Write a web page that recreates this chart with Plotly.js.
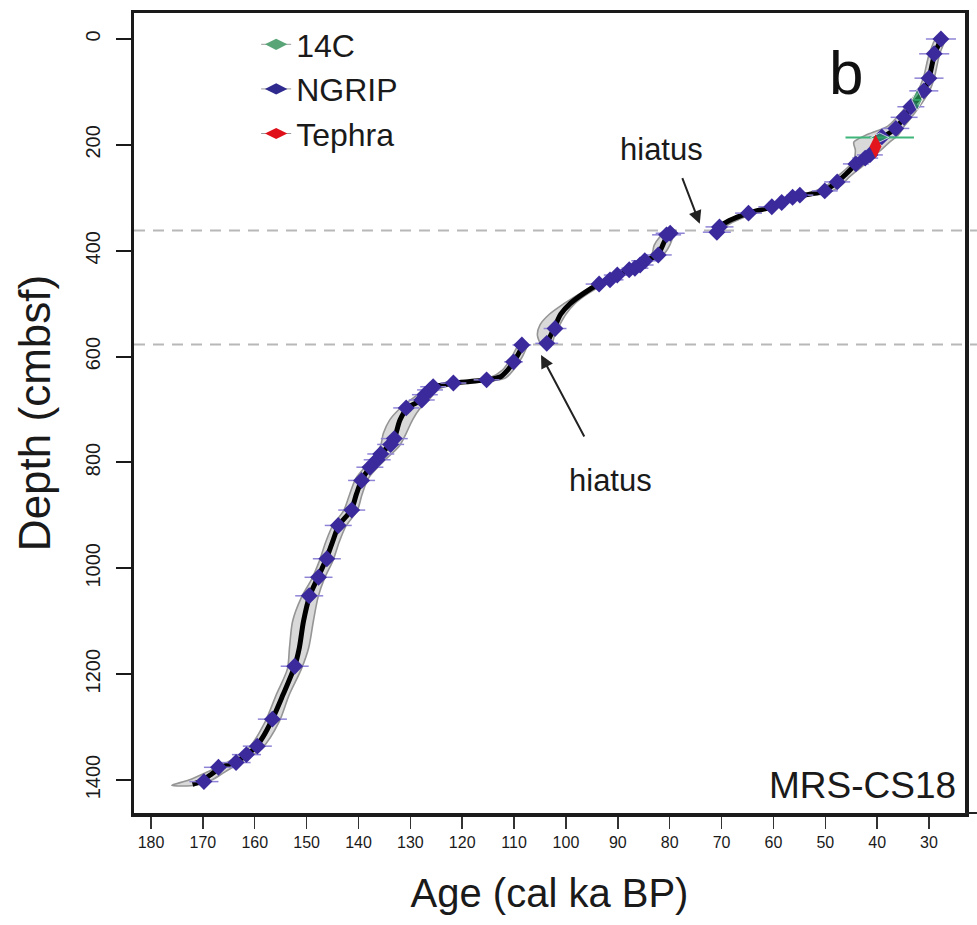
<!DOCTYPE html>
<html>
<head>
<meta charset="utf-8">
<script src="https://cdn.plot.ly/plotly-3.0.1.min.js"></script>
<style>html,body{margin:0;padding:0;background:#fff;}#chart{width:977px;height:925px;}</style>
</head>
<body>
<div id="chart"></div>
<script>
// ---------- NGRIP tie points (age ka, depth cm, age error ka) ----------
var ngripAge = [27.7,29.0,30.0,31.0,33.5,34.8,36.4,39.1,41.4,42.3,44.1,47.7,50.1,54.9,56.3,58.4,60.3,64.8,70.4,70.9,
                79.9,80.6,82.2,84.8,85.7,86.7,87.8,90.1,91.5,93.6,102.1,103.7,
                108.5,110.1,115.3,121.7,125.6,126.2,127.2,127.8,130.8,133.1,133.8,135.7,136.4,137.8,139.4,141.3,143.9,146.1,147.7,149.5,152.3,156.6,159.5,161.6,163.6,167.0,169.8];
var ngripDepth = [0,28,74,98,128,148,169,185,219,225,236,270,287,295,299,309,317,329,355,365,
                  367,370,408,419,427,433,436,446,455,463,547,575,
                  578,610,644,650,657,663,672,682,697,755,766,784,795,809,834,890,919,982,1017,1052,1185,1285,1336,1352,1367,1376,1403];
var ngripErr = [2.9,2.9,2.8,2.8,2.6,2.6,2.6,2.5,2.5,2.5,2.5,2.5,2.5,2.6,2.6,2.6,2.6,2.6,2.7,2.7,
                2.8,2.8,2.6,2.6,2.6,2.6,2.6,2.6,2.6,2.6,2.2,2.2,
                1.8,1.8,2.5,2.5,2.5,2.5,2.5,2.5,2.5,2.6,2.6,2.6,2.6,2.6,2.6,2.6,2.6,2.7,2.7,2.7,2.7,2.8,2.8,2.8,2.8,2.8,2.8];

// ---------- 14C and tephra dates ----------
var c14Age = [32.3, 39.5];
var c14Depth = [115, 186];
var c14Err = [0.6, 6.6];
var tephraAge = [40.3];
var tephraDepth = [203];
var tephraErr = [0.5];

// ---------- age-depth model (three segments split by hiatuses) ----------
var modelADepth = [0,28,74,98,115,128,148,169,186,200,219,236,255,270,287,293,299,309,317,329,343,355,364];
var modelAAge   = [27.6,28.9,30.0,31.0,32.3,33.5,34.8,36.5,38.8,40.3,41.6,44.0,46.0,47.7,50.2,53.0,56.3,58.5,60.3,64.8,68.5,70.4,71.2];
var modelBDepth = [362,367,380,395,408,419,427,433,438,446,455,463,480,500,520,547,577];
var modelBAge   = [79.6,80.0,80.9,81.6,82.3,84.8,85.8,86.8,88.0,90.0,91.6,93.6,96.5,99.2,101.0,102.3,103.8];
var modelCDepth = [577,590,610,625,638,644,647,650,654,657,665,672,682,697,720,755,766,784,809,834,860,890,919,950,982,1017,1052,1100,1150,1185,1240,1285,1320,1340,1352,1367,1376,1390,1403,1408];
var modelCAge   = [108.3,108.9,110.1,111.2,112.6,115.3,118.5,121.7,124.0,125.5,126.4,127.2,127.9,130.6,132.0,133.1,133.9,135.7,137.8,139.4,140.4,141.4,143.8,145.0,146.2,147.8,149.4,150.6,151.4,152.3,154.6,156.6,158.5,160.0,161.6,163.8,166.5,168.5,170.5,172.0];

// ---------- uncertainty envelope (older / younger bound) ----------
var envADepth = [-3,30,74,98,120,148,165,180,195,210,225,240,260,275,290,300,315,330,350,364];
var envAOld   = [28.5,30.0,31.1,32.2,33.8,36.2,38.0,41.8,44.5,44.2,44.4,45.4,47.7,49.5,52.7,57.2,60.7,65.7,70.2,72.0];
var envAYoung = [26.9,28.0,29.0,29.9,31.3,33.4,34.8,35.8,37.6,39.3,41.0,42.8,45.3,46.8,49.3,55.3,59.0,63.8,68.6,70.3];
var envBDepth = [362,375,390,405,415,430,445,460,480,500,520,540,560,577];
var envBOld   = [80.5,82.0,83.0,83.4,84.7,87.2,90.9,93.8,97.2,100.4,103.2,105.0,105.5,104.7];
var envBYoung = [78.8,79.4,80.0,81.0,82.8,85.3,89.0,92.0,95.6,98.3,100.0,101.2,102.2,102.8];
var envCDepth = [577,600,625,640,646,652,660,680,700,720,745,770,800,830,860,890,920,950,985,1020,1055,1100,1150,1190,1240,1290,1340,1365,1385,1400,1410];
var envCOld   = [109.0,110.4,112.2,114.7,118.2,123.2,126.7,129.7,132.2,134.0,135.2,135.8,138.0,140.5,141.7,142.8,145.0,146.3,147.5,149.0,151.0,152.7,153.3,153.7,155.9,158.0,161.2,165.0,169.2,172.7,176.0];
var envCYoung = [107.5,108.4,110.1,111.6,114.3,120.3,124.3,126.3,128.3,129.6,130.8,132.2,135.4,138.1,139.3,140.2,142.4,143.7,144.9,146.6,147.8,148.7,149.6,151.0,153.4,155.3,158.6,162.4,165.8,168.3,171.3];

var hiatusDepth = [362, 577];
var xTicks = [180,170,160,150,140,130,120,110,100,90,80,70,60,50,40,30];
var yTicks = [0,200,400,600,800,1000,1200,1400];

var FONT = 'Liberation Sans, Arial, Helvetica, sans-serif';
var BLUE = '#3a2a9c', GREEN = '#2a9d5c', RED = '#e3151d';

function envTrace(d, o, y) {
  return {
    x: o.concat(y.slice().reverse(), [o[0]]),
    y: d.concat(d.slice().reverse(), [d[0]]),
    mode: 'lines', fill: 'toself', fillcolor: 'rgba(208,208,208,0.8)',
    line: {color: '#959595', width: 1.6, shape: 'spline', smoothing: 0.8},
    hoverinfo: 'skip', showlegend: false
  };
}
function modelTrace(a, d) {
  return {x: a, y: d, mode: 'lines', line: {color: '#000', width: 5, shape: 'spline', smoothing: 0.8},
          hoverinfo: 'skip', showlegend: false};
}

var traces = [
  envTrace(envADepth, envAOld, envAYoung),
  envTrace(envBDepth, envBOld, envBYoung),
  envTrace(envCDepth, envCOld, envCYoung),
  modelTrace(modelAAge, modelADepth),
  modelTrace(modelBAge, modelBDepth),
  modelTrace(modelCAge, modelCDepth),
  {x: ngripAge, y: ngripDepth, mode: 'markers', name: 'NGRIP', showlegend: false, legendgroup: 'ngrip',
   marker: {symbol: 'diamond', size: 13, color: BLUE},
   error_x: {type: 'data', array: ngripErr, visible: true, color: '#8e84d6', thickness: 1.5, width: 0}},
  {x: c14Age, y: c14Depth, mode: 'markers', name: '14C', showlegend: false, legendgroup: 'c14',
   marker: {symbol: ['diamond-tall', 'diamond-wide'], size: [15, 13], color: GREEN},
   error_x: {type: 'data', array: c14Err, visible: true, color: '#3fb57a', thickness: 2, width: 0}},
  {x: tephraAge, y: tephraDepth, mode: 'markers', name: 'Tephra', showlegend: false, legendgroup: 'teph',
   marker: {symbol: 'diamond-tall', size: 17, color: RED},
   error_x: {type: 'data', array: tephraErr, visible: true, color: RED, thickness: 1.5, width: 0}},
  // legend entries (violin-like glyphs)
  {x: [null], y: [null], mode: 'lines+markers', name: '14C', legendgroup: 'c14',
   line: {color: '#9a9a9a', width: 1}, marker: {symbol: 'diamond-wide', size: 16, color: '#5aa577'}},
  {x: [null], y: [null], mode: 'lines+markers', name: 'NGRIP', legendgroup: 'ngrip',
   line: {color: '#9a9a9a', width: 1}, marker: {symbol: 'diamond-wide', size: 16, color: '#2e2a8e'}},
  {x: [null], y: [null], mode: 'lines+markers', name: 'Tephra', legendgroup: 'teph',
   line: {color: '#9a9a9a', width: 1}, marker: {symbol: 'diamond-wide', size: 16, color: '#e0101a'}}
];

var shapes = hiatusDepth.map(function (d) {
  return {type: 'line', xref: 'paper', yref: 'y', x0: 0, x1: 1.0144, y0: d, y1: d,
          line: {color: '#b8b8b8', width: 2, dash: '11px,8px'}, layer: 'below'};
});
shapes.push({type: 'line', xref: 'paper', yref: 'paper', x0: 1, x1: 1.0144, y0: 0, y1: 0,
             line: {color: '#222', width: 2}});

var layout = {
  width: 977, height: 925,
  margin: {l: 134, r: 12, t: 13, b: 112},
  paper_bgcolor: '#fff', plot_bgcolor: '#fff',
  font: {family: FONT, color: '#1a1a1a'},
  showlegend: true,
  legend: {x: 0.147, y: 0.995, xanchor: 'left', yanchor: 'top', bgcolor: 'rgba(0,0,0,0)',
           font: {size: 32, family: FONT, color: '#1a1a1a'}, tracegroupgap: 0, traceorder: 'normal'},
  xaxis: {
    range: [183.28, 23.06], tickvals: xTicks, ticktext: xTicks.map(String),
    ticks: 'outside', ticklen: 12, tickwidth: 1.5, tickcolor: '#333',
    showline: true, mirror: true, linewidth: 3.5, linecolor: '#1a1a1a',
    showgrid: false, zeroline: false,
    tickfont: {size: 16, family: FONT, color: '#1a1a1a'},
    title: {text: 'Age (cal ka BP)', font: {size: 40, family: FONT, color: '#1a1a1a'}, standoff: 30}
  },
  yaxis: {
    range: [1462.3, -49.1], tickvals: yTicks,
    ticks: 'outside', ticklen: 15, tickwidth: 2, tickcolor: '#1a1a1a', tickangle: -90,
    ticklabelstandoff: 8,
    showline: true, mirror: true, linewidth: 3.5, linecolor: '#1a1a1a',
    showgrid: false, zeroline: false,
    tickfont: {size: 20, family: FONT, color: '#1a1a1a'},
    title: {text: 'Depth (cmbsf)', font: {size: 44, family: FONT, color: '#1a1a1a'}, standoff: 18}
  },
  shapes: shapes,
  annotations: [
    {xref: 'paper', yref: 'paper', x: 0.857, y: 0.926, text: 'b', showarrow: false,
     font: {size: 62, family: FONT, color: '#111'}, xanchor: 'center', yanchor: 'middle'},
    {xref: 'paper', yref: 'paper', x: 0.9916, y: 0.035, text: 'MRS-CS18', showarrow: false,
     font: {size: 37, family: FONT, color: '#1a1a1a'}, xanchor: 'right', yanchor: 'middle'},
    {x: 81.5, y: 208, text: 'hiatus', showarrow: false, font: {size: 31, family: FONT, color: '#1a1a1a'}},
    {x: 91.5, y: 835, text: 'hiatus', showarrow: false, font: {size: 31, family: FONT, color: '#1a1a1a'}},
    {x: 74.2, y: 349, ax: -18, ay: -47, text: '', showarrow: true, arrowhead: 2, arrowsize: 1.3,
     arrowwidth: 2, arrowcolor: '#222'},
    {x: 104.8, y: 597, ax: 44, ay: 83, text: '', showarrow: true, arrowhead: 2, arrowsize: 1.3,
     arrowwidth: 2, arrowcolor: '#222'}
  ]
};

Plotly.newPlot('chart', traces, layout, {displayModeBar: false, staticPlot: true});
</script>
</body>
</html>
